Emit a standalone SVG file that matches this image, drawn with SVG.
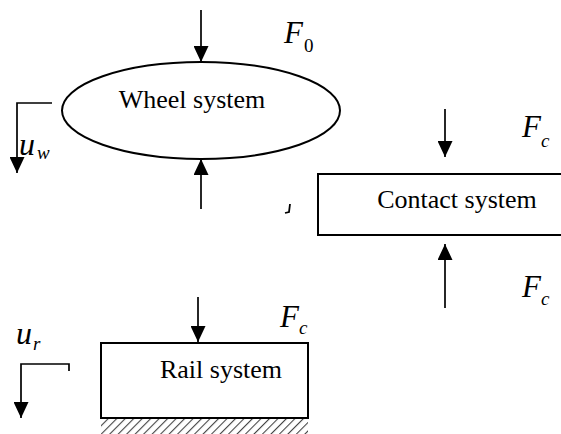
<svg xmlns="http://www.w3.org/2000/svg" width="561" height="434" viewBox="0 0 561 434">
  <style>
    .shape { fill: #fff; stroke: #000; stroke-width: 2; }
    .wire { fill: none; stroke: #000; stroke-width: 1.7; }
    .label { font-family: "Liberation Serif", "Times New Roman", serif; font-size: 26px; fill: #000; }
    .sym { font-family: "Liberation Serif", "Times New Roman", serif; font-style: italic; font-size: 31px; fill: #000; }
    .symu { font-family: "Liberation Serif", "Times New Roman", serif; font-style: italic; font-size: 32px; fill: #000; }
    .sub { font-family: "Liberation Serif", "Times New Roman", serif; font-style: italic; font-size: 19px; fill: #000; }
    .subn { font-family: "Liberation Serif", "Times New Roman", serif; font-size: 19px; fill: #000; }
  </style>
  <defs>
    <marker id="head" viewBox="0 0 16 15" refX="16" refY="7.5" markerWidth="16" markerHeight="15" markerUnits="userSpaceOnUse" orient="auto">
      <path d="M0,0 L16,7.5 L0,15 Z" fill="#000"/>
    </marker>
    <pattern id="hatch" width="6" height="6" patternUnits="userSpaceOnUse" patternTransform="rotate(45)">
      <line x1="0" y1="0" x2="0" y2="6" stroke="#444" stroke-width="2.2"/>
    </pattern>
  </defs>

  <!-- wheel subsystem -->
  <g id="wheel">
    <ellipse class="shape" cx="201" cy="110.5" rx="139" ry="48.5"/>
    <text class="label" x="192" y="108" text-anchor="middle">Wheel system</text>
  </g>

  <!-- contact subsystem (box runs off the right edge) -->
  <g id="contact">
    <rect class="shape" x="318" y="174" width="250" height="61"/>
    <text class="label" x="457" y="208" text-anchor="middle">Contact system</text>
  </g>

  <!-- rail subsystem on its foundation -->
  <g id="rail">
    <rect x="101" y="419" width="207" height="15" fill="url(#hatch)"/>
    <rect class="shape" x="101" y="343" width="207" height="75"/>
    <text class="label" x="221" y="378" text-anchor="middle">Rail system</text>
  </g>

  <!-- forces and displacements -->
  <g id="connectors">
    <line class="wire" x1="201" y1="10" x2="201" y2="62" marker-end="url(#head)"/>
    <line class="wire" x1="201" y1="209" x2="201" y2="159" marker-end="url(#head)"/>
    <line class="wire" x1="445" y1="109" x2="445" y2="157" marker-end="url(#head)"/>
    <line class="wire" x1="445" y1="308" x2="445" y2="244" marker-end="url(#head)"/>
    <line class="wire" x1="198" y1="297" x2="198" y2="342" marker-end="url(#head)"/>
    <path class="wire" d="M52,103 H17 V173" marker-end="url(#head)"/>
    <path class="wire" d="M69,371 V364 H21 V418" marker-end="url(#head)"/>
  </g>

  <!-- symbols -->
  <g id="labels">
    <text class="sym" x="284" y="43">F</text>
    <text class="subn" x="304" y="52">0</text>
    <text class="sym" x="522" y="137">F</text>
    <text class="sub" x="541" y="147">c</text>
    <text class="sym" x="522" y="297">F</text>
    <text class="sub" x="541" y="305">c</text>
    <text class="sym" x="280" y="327">F</text>
    <text class="sub" x="299" y="334">c</text>
    <text class="symu" x="19" y="155">u</text>
    <text class="sub" x="37" y="159">w</text>
    <text class="symu" x="16" y="344">u</text>
    <text class="sub" x="33" y="350">r</text>
    <path d="M290,204 L289,212 L285,213" fill="none" stroke="#000" stroke-width="1.8"/>
  </g>
</svg>
